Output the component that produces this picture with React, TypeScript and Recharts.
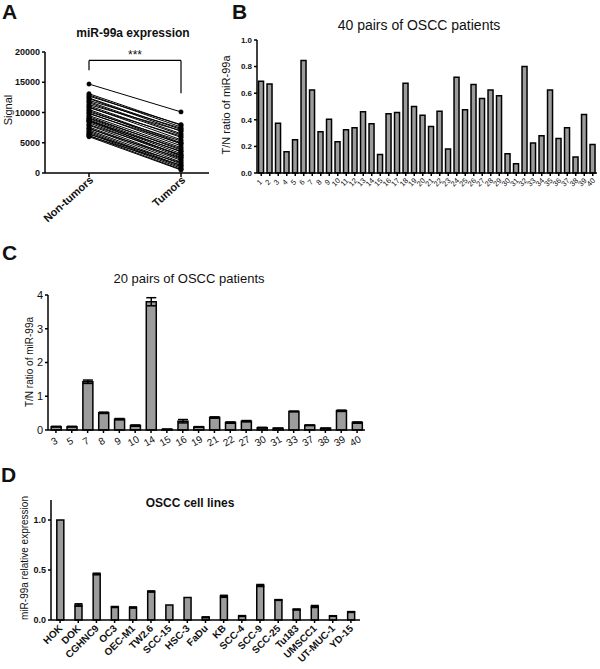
import React from 'react';
import {
  LineChart, Line, BarChart, Bar, XAxis, YAxis, ReferenceLine, ErrorBar,
} from 'recharts';

// ---------- Panel A ----------
const groupsA = ['Non-tumors', 'Tumors'];
const nonTumors = [14700, 13100, 12900, 12700, 12400, 12300, 12000, 11800, 11600, 11300, 11100, 10900, 10800, 10500, 10300, 10100, 9900, 9800, 9500, 9300, 9100, 9000, 8800, 8600, 8500, 8300, 8000, 7900, 7600, 7400, 7300, 7100, 6900, 6700, 6500, 6400, 6200, 6100, 6000, 8700];
const tumors = [10100, 7900, 7600, 8000, 7200, 6900, 7400, 6500, 6300, 7000, 5900, 5500, 6100, 5000, 4800, 5300, 4500, 4900, 4200, 3800, 4000, 3500, 3200, 3600, 2900, 2600, 3000, 2300, 2100, 1800, 2500, 1500, 1200, 1000, 800, 1700, 600, 1300, 500, 2800];
const ticksA = [0, 5000, 10000, 15000, 20000];

// ---------- Panel B ----------
const patientsB = Array.from({ length: 40 }, (_, i) => String(i + 1));
const ratioB = [0.69, 0.67, 0.375, 0.16, 0.25, 0.845, 0.625, 0.31, 0.405, 0.235, 0.325, 0.34, 0.46, 0.37, 0.14, 0.445, 0.455, 0.675, 0.5, 0.435, 0.35, 0.465, 0.18, 0.72, 0.475, 0.665, 0.56, 0.625, 0.58, 0.145, 0.07, 0.8, 0.225, 0.28, 0.625, 0.26, 0.34, 0.12, 0.44, 0.215];
const ticksB = [0, 0.2, 0.4, 0.6, 0.8, 1.0];

// ---------- Panel C ----------
const patientsC = ['3', '5', '7', '8', '9', '10', '14', '15', '16', '19', '21', '22', '27', '30', '31', '33', '37', '38', '39', '40'];
const ratioC = [0.1, 0.1, 1.43, 0.51, 0.32, 0.13, 3.8, 0.02, 0.26, 0.09, 0.37, 0.22, 0.26, 0.07, 0.05, 0.55, 0.14, 0.05, 0.57, 0.22];
const errC = [0.01, 0.01, 0.05, 0.02, 0.02, 0.02, 0.12, 0.005, 0.05, 0.01, 0.02, 0.02, 0.02, 0.01, 0.005, 0.01, 0.01, 0.005, 0.02, 0.02];
const ticksC = [0, 1, 2, 3, 4];

// ---------- Panel D ----------
const cellLines = ['HOK', 'DOK', 'CGHNC9', 'OC3', 'OEC-M1', 'TW2.6', 'SCC-15', 'HSC-3', 'FaDu', 'KB', 'SCC-4', 'SCC-9', 'SCC-25', 'Tu183', 'UMSCC1', 'UT-MUC-1', 'YD-15'];
const exprD = [1.0, 0.15, 0.46, 0.13, 0.125, 0.285, 0.15, 0.225, 0.027, 0.237, 0.04, 0.345, 0.2, 0.105, 0.135, 0.04, 0.08];
const errD = [0, 0.012, 0.008, 0.005, 0.006, 0.006, 0, 0, 0.004, 0.01, 0.004, 0.01, 0.004, 0.005, 0.01, 0.003, 0.004];
const ticksD = [0, 0.5, 1.0];

const FONT = '"Liberation Sans", Arial, sans-serif';
const BAR_FILL = '#9c9c9c';

const dataA = groupsA.map((g, gi) => {
  const row: Record<string, any> = { name: g };
  (gi === 0 ? nonTumors : tumors).forEach((v, i) => { row['p' + i] = v; });
  return row;
});
const dataB = patientsB.map((p, i) => ({ name: p, v: ratioB[i] }));
const dataC = patientsC.map((p, i) => ({ name: p, v: ratioC[i], err: errC[i] }));
const dataD = cellLines.map((c, i) => ({ name: c, v: exprD[i], err: errD[i] }));

const RotTick = (props: any) => {
  const { x, y, payload, angle, anchor, dx = 0, dy = 0, fontSize, fontWeight } = props;
  const tx = x + dx;
  const ty = y + dy;
  return (
    <text
      x={tx}
      y={ty}
      transform={`rotate(${angle}, ${tx}, ${ty})`}
      textAnchor={anchor}
      fontSize={fontSize}
      fontWeight={fontWeight}
      fontFamily={FONT}
      fill="#111"
    >
      {payload.value}
    </text>
  );
};

const abs = (left: number, top: number, extra: React.CSSProperties = {}): React.CSSProperties => ({
  position: 'absolute', left, top, fontFamily: FONT, color: '#111', whiteSpace: 'nowrap', ...extra,
});

const VLabel = ({ text, cx, cy, size, weight = 'normal' }: any) => (
  <div
    style={abs(cx, cy, {
      fontSize: size,
      fontWeight: weight,
      transform: 'translate(-50%, -50%) rotate(-90deg)',
      lineHeight: 1,
    })}
  >
    {text}
  </div>
);

const CLabel = ({ text, cx, cy, size, weight = 'normal' }: any) => (
  <div style={abs(cx, cy, { fontSize: size, fontWeight: weight, transform: 'translate(-50%, -50%)', lineHeight: 1 })}>
    {text}
  </div>
);

const axisProps = { stroke: '#000', strokeWidth: 1.5 };

export default function App() {
  return (
    <div style={{ position: 'absolute', left: 0, top: 0, width: 600, height: 669, background: '#fff', overflow: 'hidden' }}>
      {/* Panel letters */}
      <div style={abs(2, 1, { fontSize: 21, fontWeight: 'bold', lineHeight: 1 })}>A</div>
      <div style={abs(232, 1, { fontSize: 21, fontWeight: 'bold', lineHeight: 1 })}>B</div>
      <div style={abs(2, 242, { fontSize: 21, fontWeight: 'bold', lineHeight: 1 })}>C</div>
      <div style={abs(1, 464, { fontSize: 21, fontWeight: 'bold', lineHeight: 1 })}>D</div>

      {/* Panel A */}
      <div style={abs(0, 0)}>
        <LineChart width={215} height={240} data={dataA} margin={{ top: 52, right: 6, bottom: 0, left: 0 }}>
          <XAxis
            dataKey="name"
            height={67}
            scale="point"
            padding={{ left: 44, right: 28 }}
            tickSize={4}
            axisLine={axisProps}
            tickLine={axisProps}
            interval={0}
            tick={(p: any) => <RotTick {...p} angle={-42} anchor="end" dx={5} dy={2} fontSize={11} fontWeight="bold" />}
          />
          <YAxis
            width={45}
            domain={[0, 20000]}
            ticks={ticksA}
            tickSize={3}
            axisLine={axisProps}
            tickLine={axisProps}
            tick={{ fontSize: 9, fontWeight: 'bold', fill: '#111', fontFamily: FONT }}
          />
          <ReferenceLine segment={[{ x: 'Non-tumors', y: 17000 }, { x: 'Non-tumors', y: 18600 }]} stroke="#000" strokeWidth={1.2} />
          <ReferenceLine segment={[{ x: 'Tumors', y: 13200 }, { x: 'Tumors', y: 18600 }]} stroke="#000" strokeWidth={1.2} />
          <ReferenceLine
            segment={[{ x: 'Non-tumors', y: 18600 }, { x: 'Tumors', y: 18600 }]}
            stroke="#000"
            strokeWidth={1.2}
            label={{ value: '***', position: 'top', fontSize: 12, fill: '#111', offset: 1, fontFamily: FONT }}
          />
          {nonTumors.map((_, i) => (
            <Line
              key={i}
              dataKey={'p' + i}
              stroke="#000"
              strokeWidth={1}
              dot={{ r: 2.2, fill: '#000', stroke: '#000', strokeWidth: 0.5 }}
              activeDot={false}
              isAnimationActive={false}
            />
          ))}
        </LineChart>
      </div>
      <CLabel text="miR-99a expression" cx={133} cy={33} size={12} weight="bold" />
      <VLabel text="Signal" cx={8} cy={110} size={11} />

      {/* Panel B */}
      <div style={abs(210, 0)}>
        <BarChart width={390} height={200} data={dataB} margin={{ top: 40, right: 3, bottom: 0, left: 0 }} barCategoryGap="18%">
          <XAxis
            dataKey="name"
            height={27}
            interval={0}
            tickSize={3}
            axisLine={axisProps}
            tickLine={axisProps}
            tick={(p: any) => <RotTick {...p} angle={-45} anchor="middle" dx={0} dy={6} fontSize={7.5} />}
          />
          <YAxis
            width={47}
            domain={[0, 1]}
            ticks={ticksB}
            tickSize={3}
            tickFormatter={(v: number) => v.toFixed(1)}
            axisLine={axisProps}
            tickLine={axisProps}
            tick={{ fontSize: 8, fontWeight: 'bold', fill: '#111', fontFamily: FONT }}
          />
          <Bar dataKey="v" fill={BAR_FILL} stroke="#000" strokeWidth={1.5} isAnimationActive={false} />
        </BarChart>
      </div>
      <CLabel text="40 pairs of OSCC patients" cx={419} cy={25} size={14} />
      <VLabel text="T/N ratio of miR-99a" cx={226} cy={105} size={11} />

      {/* Panel C */}
      <div style={abs(0, 285)}>
        <BarChart width={380} height={175} data={dataC} margin={{ top: 10, right: 15, bottom: 0, left: 0 }} barCategoryGap="20%">
          <XAxis
            dataKey="name"
            height={30}
            interval={0}
            tickSize={3}
            axisLine={axisProps}
            tickLine={axisProps}
            tick={(p: any) => <RotTick {...p} angle={-30} anchor="middle" dx={0} dy={9} fontSize={10} />}
          />
          <YAxis
            width={48}
            domain={[0, 4]}
            ticks={ticksC}
            tickSize={3}
            axisLine={axisProps}
            tickLine={axisProps}
            tick={{ fontSize: 11, fill: '#111', fontFamily: FONT }}
          />
          <Bar dataKey="v" fill={BAR_FILL} stroke="#000" strokeWidth={1.5} isAnimationActive={false}>
            <ErrorBar dataKey="err" width={5} stroke="#000" strokeWidth={1.5} />
          </Bar>
        </BarChart>
      </div>
      <CLabel text="20 pairs of OSCC patients" cx={189} cy={278} size={13} />
      <VLabel text="T/N ratio of miR-99a" cx={30} cy={362} size={10} />

      {/* Panel D */}
      <div style={abs(0, 490)}>
        <BarChart width={380} height={179} data={dataD} margin={{ top: 10, right: 20, bottom: 0, left: 0 }} barCategoryGap="32%">
          <XAxis
            dataKey="name"
            height={49}
            interval={0}
            tickSize={3}
            axisLine={axisProps}
            tickLine={axisProps}
            tick={(p: any) => <RotTick {...p} angle={-45} anchor="end" dx={3} dy={4} fontSize={10} fontWeight="bold" />}
          />
          <YAxis
            width={51}
            domain={[0, 1.2]}
            ticks={ticksD}
            tickSize={3}
            tickFormatter={(v: number) => v.toFixed(1)}
            axisLine={axisProps}
            tickLine={axisProps}
            tick={{ fontSize: 9, fontWeight: 'bold', fill: '#111', fontFamily: FONT }}
          />
          <Bar dataKey="v" fill={BAR_FILL} stroke="#000" strokeWidth={1.5} isAnimationActive={false}>
            <ErrorBar dataKey="err" width={4} stroke="#000" strokeWidth={1.5} />
          </Bar>
        </BarChart>
      </div>
      <CLabel text="OSCC cell lines" cx={190} cy={503} size={12} weight="bold" />
      <VLabel text="miR-99a relative expression" cx={25} cy={558} size={10} />
    </div>
  );
}
